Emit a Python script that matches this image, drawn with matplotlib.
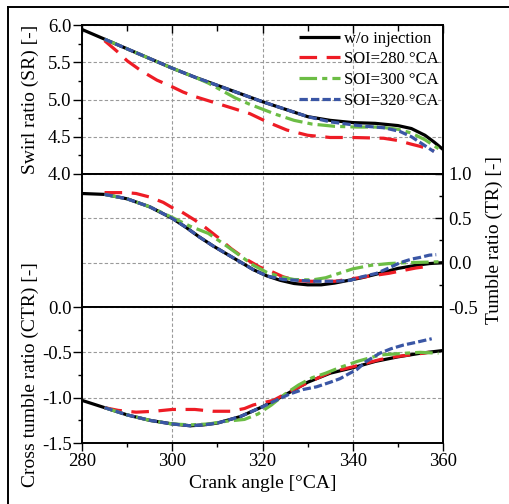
import matplotlib
matplotlib.use("Agg")
import matplotlib.pyplot as plt
from matplotlib.ticker import MultipleLocator
from matplotlib.lines import Line2D

plt.rcParams['font.family'] = ['Liberation Serif', 'DejaVu Serif']
plt.rcParams['mathtext.fontset'] = 'stix'

# ---------------- data ----------------
labels = ["w/o injection", "SOI=280 \u00b0CA", "SOI=300 \u00b0CA", "SOI=320 \u00b0CA"]
colors = ["#000000", "#EE1C25", "#6CBD45", "#3A56A5"]

# Swirl ratio (SR)
sr_x_base = [280, 285, 290, 295, 300, 305, 310, 315, 320, 325, 330, 335, 340, 345, 350, 353, 356, 358, 360]
sr_base = [5.94, 5.81, 5.68, 5.55, 5.42, 5.30, 5.19, 5.08, 4.97, 4.87, 4.77, 4.72, 4.69, 4.68, 4.65, 4.61, 4.52, 4.43, 4.33]
sr_x_280 = [285, 287.7, 290, 293, 296.6, 300, 302.4, 305, 309.8, 313, 317.2, 321, 325.4, 330, 335, 340, 346.8, 350, 353, 355, 358]
sr_280 = [5.79, 5.65, 5.52, 5.39, 5.26, 5.17, 5.10, 5.04, 4.95, 4.89, 4.81, 4.70, 4.59, 4.52, 4.49, 4.49, 4.48, 4.45, 4.40, 4.37, 4.31]
sr_x_300 = [285, 290, 295, 300, 305, 308, 311, 314, 317, 320, 323, 327, 331, 336, 341, 346, 350, 353, 356, 359]
sr_300 = [5.81, 5.68, 5.55, 5.42, 5.30, 5.22, 5.12, 5.02, 4.94, 4.87, 4.80, 4.72, 4.67, 4.64, 4.63, 4.63, 4.60, 4.55, 4.46, 4.34]
sr_x_320 = [285, 290, 295, 300, 305, 310, 315, 320, 325, 330, 335, 340, 343, 347, 350.5, 353, 355, 358]
sr_320 = [5.81, 5.68, 5.55, 5.42, 5.30, 5.19, 5.08, 4.97, 4.87, 4.77, 4.70, 4.66, 4.64, 4.62, 4.57, 4.50, 4.42, 4.30]

# Tumble ratio (TR)
tr_x_base = [280, 285, 290, 295, 300, 303, 306, 309, 312, 315, 318, 321, 324, 327, 330, 333, 336, 339, 342, 346, 350, 354, 357, 360]
tr_base = [0.78, 0.77, 0.72, 0.63, 0.50, 0.40, 0.29, 0.19, 0.10, 0.01, -0.08, -0.15, -0.20, -0.235, -0.25, -0.25, -0.23, -0.20, -0.17, -0.12, -0.065, -0.03, -0.01, 0.0]
tr_x_280 = [285, 290, 292, 295, 298, 300, 302, 305, 307, 310, 313, 316, 319.4, 322, 324.6, 327.5, 330, 336, 340, 344, 348, 351, 354, 357]
tr_280 = [0.79, 0.79, 0.78, 0.74, 0.68, 0.62, 0.575, 0.48, 0.41, 0.29, 0.16, 0.05, -0.05, -0.10, -0.16, -0.20, -0.21, -0.21, -0.18, -0.15, -0.12, -0.09, -0.06, -0.04]
tr_x_300 = [285, 290, 295, 300, 304, 308, 312, 315, 318, 321, 324, 327, 331, 334, 337, 340, 344, 348, 352, 356, 359]
tr_300 = [0.77, 0.72, 0.63, 0.51, 0.41, 0.33, 0.19, 0.08, -0.03, -0.11, -0.16, -0.19, -0.195, -0.17, -0.12, -0.07, -0.03, -0.01, 0.0, 0.005, 0.01]
tr_x_320 = [285, 290, 295, 300, 303, 306, 309, 312, 315, 318, 321, 324.6, 328, 332, 336, 339.4, 342, 345.3, 348, 350.5, 353, 355, 357, 358.5]
tr_320 = [0.77, 0.72, 0.63, 0.50, 0.40, 0.29, 0.19, 0.10, 0.01, -0.08, -0.15, -0.19, -0.20, -0.21, -0.21, -0.20, -0.16, -0.12, -0.06, 0.0, 0.04, 0.06, 0.085, 0.09]

# Cross tumble ratio (CTR)
ctr_x_base = [280, 285, 290, 295, 300, 304, 307, 310, 315, 320, 325, 330, 335, 340, 345, 350, 355, 360]
ctr_base = [-1.03, -1.11, -1.19, -1.25, -1.29, -1.31, -1.30, -1.28, -1.21, -1.10, -0.97, -0.83, -0.73, -0.67, -0.60, -0.55, -0.51, -0.48]
ctr_x_280 = [285, 288, 292, 296, 300, 305, 309, 313, 316, 318, 322.4, 325.4, 329.8, 335, 340, 346, 350, 354, 357]
ctr_280 = [-1.11, -1.14, -1.16, -1.15, -1.13, -1.13, -1.15, -1.15, -1.12, -1.08, -1.03, -0.95, -0.84, -0.72, -0.66, -0.58, -0.545, -0.52, -0.50]
ctr_x_300 = [285, 290, 295, 300, 304, 308, 312, 316, 319, 322, 325, 328, 331, 334, 337, 341, 346, 350, 355, 359]
ctr_300 = [-1.11, -1.19, -1.25, -1.29, -1.30, -1.29, -1.26, -1.24, -1.18, -1.08, -0.96, -0.86, -0.78, -0.73, -0.67, -0.60, -0.53, -0.515, -0.50, -0.51]
ctr_x_320 = [285, 290, 295, 300, 304, 307, 310, 315, 320, 323, 326, 329, 332, 335, 337.2, 339, 340.9, 343, 346, 348.5, 351.2, 354, 357.5]
ctr_320 = [-1.11, -1.19, -1.25, -1.29, -1.31, -1.30, -1.28, -1.21, -1.10, -1.03, -0.96, -0.91, -0.88, -0.83, -0.79, -0.74, -0.69, -0.60, -0.51, -0.46, -0.42, -0.39, -0.35]

sr_series = [(sr_x_base, sr_base), (sr_x_280, sr_280), (sr_x_300, sr_300), (sr_x_320, sr_320)]
tr_series = [(tr_x_base, tr_base), (tr_x_280, tr_280), (tr_x_300, tr_300), (tr_x_320, tr_320)]
ctr_series = [(ctr_x_base, ctr_base), (ctr_x_280, ctr_280), (ctr_x_300, ctr_300), (ctr_x_320, ctr_320)]

styles = ['-', (0, (5.5, 3)), (0, (5.5, 1.6, 1.6, 1.6)), (0, (2.6, 1.0))]

# ---------------- figure ----------------
W, H = 510, 504
fig = plt.figure(figsize=(W / 100, H / 100), dpi=100)

def rect(x0, y0, x1, y1):
    return [x0 / W, 1 - y1 / H, (x1 - x0) / W, (y1 - y0) / H]

ax1 = fig.add_axes(rect(82, 25, 443, 174))
ax2 = fig.add_axes(rect(82, 174, 443, 307))
ax3 = fig.add_axes(rect(82, 307, 443, 443))

TICK_FS = 13.5
LAB_FS = 14
grid_kw = dict(color='#9a9a9a', linestyle=(0, (3, 2)), linewidth=0.8)

for ax, series in [(ax1, sr_series), (ax2, tr_series), (ax3, ctr_series)]:
    for (xs, ys), c, ls, lab in zip(series, colors, styles, labels):
        ax.plot(xs, ys, color=c, linestyle=ls, linewidth=2.3, label=lab,
                solid_capstyle='butt', dash_capstyle='butt')
    ax.set_xlim(280, 360)
    ax.xaxis.set_major_locator(MultipleLocator(20))
    ax.xaxis.set_minor_locator(MultipleLocator(10))
    ax.grid(True, which='major', **grid_kw)
    ax.set_axisbelow(True)
    for s in ax.spines.values():
        s.set_linewidth(1.4)
        s.set_zorder(5)

# top panel
ax1.set_ylim(4.0, 6.0)
ax1.yaxis.set_major_locator(MultipleLocator(0.5))
ax1.yaxis.set_minor_locator(MultipleLocator(0.25))
ax1.yaxis.set_major_formatter(plt.FormatStrFormatter('%.1f'))
ax1.tick_params(axis='x', which='both', bottom=False, top=True, labelbottom=False,
                direction='in')
ax1.tick_params(axis='x', which='major', length=6, width=1.0)
ax1.tick_params(axis='x', which='minor', length=4, width=1.0)
ax1.tick_params(axis='y', which='both', left=True, right=False, direction='out',
                labelsize=TICK_FS, pad=1)
ax1.tick_params(axis='y', which='major', length=6.5, width=1.0)
ax1.tick_params(axis='y', which='minor', length=3, width=1.0)
ax1.set_ylabel('Swirl ratio (SR) [-]', fontsize=LAB_FS)
ax1.yaxis.set_label_coords(-0.118, 0.5)

# middle panel
ax2.set_ylim(-0.5, 1.0)
ax2.yaxis.set_major_locator(MultipleLocator(0.5))
ax2.yaxis.set_minor_locator(MultipleLocator(0.25))
ax2.yaxis.set_major_formatter(plt.FormatStrFormatter('%.1f'))
ax2.yaxis.tick_right()
ax2.yaxis.set_label_position('right')
ax2.tick_params(axis='x', which='both', bottom=False, top=False, labelbottom=False)
ax2.tick_params(axis='y', which='both', left=False, right=True, direction='in',
                labelsize=TICK_FS, pad=4)
ax2.tick_params(axis='y', which='major', length=6, width=1.0)
ax2.tick_params(axis='y', which='minor', length=3, width=1.0)
ax2.set_ylabel('Tumble ratio (TR) [-]', fontsize=LAB_FS)
ax2.yaxis.set_label_coords(1.118, 0.5)

# bottom panel
ax3.set_ylim(-1.5, 0.0)
ax3.yaxis.set_major_locator(MultipleLocator(0.5))
ax3.yaxis.set_minor_locator(MultipleLocator(0.25))
ax3.yaxis.set_major_formatter(plt.FormatStrFormatter('%.1f'))
ax3.tick_params(axis='x', which='both', bottom=True, top=False, direction='out',
                labelsize=TICK_FS, pad=1)
ax3.tick_params(axis='x', which='major', length=6, width=1.0)
ax3.tick_params(axis='x', which='minor', length=3, width=1.0)
ax3.tick_params(axis='y', which='both', left=True, right=False, direction='out',
                labelsize=TICK_FS, pad=1)
ax3.tick_params(axis='y', which='major', length=6.5, width=1.0)
ax3.tick_params(axis='y', which='minor', length=3, width=1.0)
ax3.set_ylabel('Cross tumble ratio (CTR) [-]', fontsize=LAB_FS)
ax3.yaxis.set_label_coords(-0.118, 0.5)
ax3.set_xlabel('Crank angle [\u00b0CA]', fontsize=LAB_FS, labelpad=4)

# legend
ax1.legend(loc='upper right', bbox_to_anchor=(1.015, 1.03), frameon=False,
           fontsize=12, handlelength=2.5, handletextpad=0.2, labelspacing=0.28,
           borderaxespad=0.2)

# outer frame (left and top)
fig.add_artist(Line2D([8 / W, 8 / W], [0, 1 - 7 / H], color='black', linewidth=1.4,
                      transform=fig.transFigure))
fig.add_artist(Line2D([8 / W, 1], [1 - 7 / H, 1 - 7 / H], color='black', linewidth=1.4,
                      transform=fig.transFigure))

fig.savefig('out.png', dpi=100)
